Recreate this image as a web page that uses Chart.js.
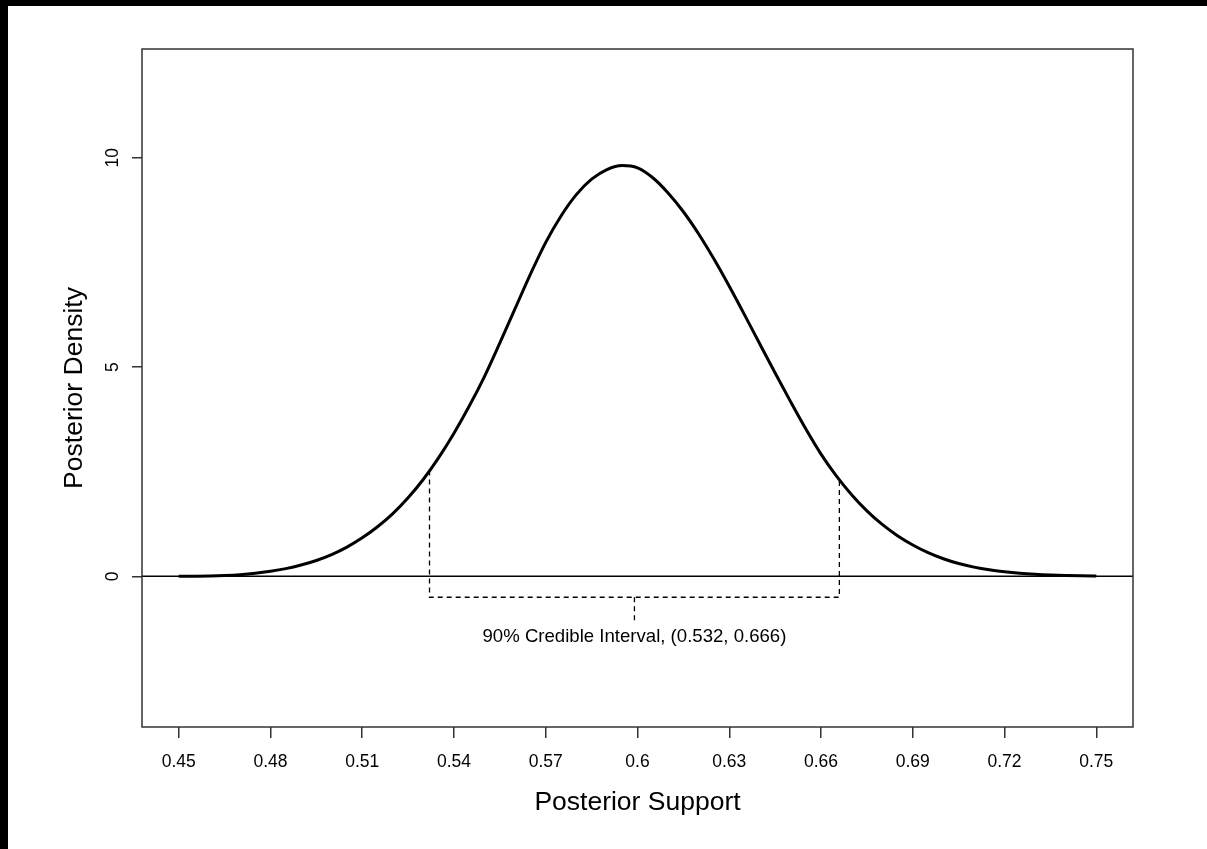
<!DOCTYPE html>
<html><head><meta charset="utf-8">
<script src="https://cdn.jsdelivr.net/npm/chart.js@4/dist/chart.umd.min.js"></script>
<style>
html,body{margin:0;padding:0;background:#000;overflow:hidden;width:1207px;height:849px;}
#wrap{position:absolute;left:8px;top:6px;width:1199px;height:843px;background:#fff;}
canvas{display:block;}
</style></head><body>
<div id="wrap"><canvas id="c" width="1199" height="843"></canvas></div>
<script>
const xValues = [0.450,0.455,0.460,0.465,0.470,0.475,0.480,0.485,0.490,0.495,0.500,0.505,0.510,0.515,0.520,0.525,0.530,0.535,0.540,0.545,0.550,0.555,0.560,0.565,0.570,0.575,0.580,0.585,0.590,0.595,0.600,0.605,0.610,0.615,0.620,0.625,0.630,0.635,0.640,0.645,0.650,0.655,0.660,0.665,0.670,0.675,0.680,0.685,0.690,0.695,0.700,0.705,0.710,0.715,0.720,0.725,0.730,0.735,0.740,0.745,0.750];
const densityValues = [0.000,0.004,0.010,0.021,0.040,0.072,0.120,0.184,0.270,0.379,0.520,0.699,0.920,1.184,1.500,1.878,2.320,2.836,3.420,4.068,4.780,5.576,6.400,7.220,7.980,8.611,9.120,9.489,9.720,9.815,9.760,9.524,9.160,8.711,8.180,7.580,6.930,6.248,5.550,4.858,4.180,3.525,2.920,2.400,1.950,1.565,1.240,0.971,0.750,0.567,0.420,0.306,0.220,0.156,0.110,0.075,0.050,0.032,0.020,0.013,0.010];
const xTickValues = [0.45,0.48,0.51,0.54,0.57,0.60,0.63,0.66,0.69,0.72,0.75];
const xTickLabels = ['0.45','0.48','0.51','0.54','0.57','0.6','0.63','0.66','0.69','0.72','0.75'];
const yTickValues = [0,5,10];
const yTickLabels = ['0','5','10'];
const xLimits = [0.438, 0.762];
const yLimits = [-3.6, 12.6];
const ciBounds = [0.532, 0.666];
const ciDensityAtBounds = [2.53, 2.29];
const ciBracketLevel = -0.5;
const ciPointerEnd = -1.1;
const ciLabelLevel = -1.45;
const ciLabel = '90% Credible Interval, (0.532, 0.666)';
const xTitle = 'Posterior Support';
const yTitle = 'Posterior Density';

const FONT = '"Liberation Sans", Arial, Helvetica, sans-serif';
const ciMid = (ciBounds[0] + ciBounds[1]) / 2;

const overlay = {
  id: 'overlay',
  afterDraw(chart) {
    const ctx = chart.ctx, a = chart.chartArea;
    const xs = chart.scales.x, ys = chart.scales.y;
    ctx.save();
    ctx.strokeStyle = '#333';
    ctx.lineWidth = 1.5;
    ctx.strokeRect(a.left, a.top, a.right - a.left, a.bottom - a.top);
    ctx.fillStyle = '#000';
    ctx.textAlign = 'center';
    ctx.textBaseline = 'middle';
    ctx.font = '17.5px ' + FONT;
    yTickValues.forEach((v, i) => {
      ctx.save();
      ctx.translate(a.left - 29, ys.getPixelForValue(v));
      ctx.rotate(-Math.PI / 2);
      ctx.fillText(yTickLabels[i], 0, 0);
      ctx.restore();
    });
    ctx.font = '18.6px ' + FONT;
    ctx.fillText(ciLabel, xs.getPixelForValue(ciMid), ys.getPixelForValue(ciLabelLevel));
    ctx.font = '26.5px ' + FONT;
    ctx.fillText(xTitle, (a.left + a.right) / 2, a.bottom + 76);
    ctx.save();
    ctx.translate(a.left - 67, (a.top + a.bottom) / 2);
    ctx.rotate(-Math.PI / 2);
    ctx.fillText(yTitle, 0, 0);
    ctx.restore();
    ctx.restore();
  }
};

new Chart(document.getElementById('c'), {
  type: 'line',
  data: {
    datasets: [
      {
        data: [{x: xLimits[0], y: 0}, {x: xLimits[1], y: 0}],
        borderColor: '#000', borderWidth: 1.5, pointRadius: 0
      },
      {
        data: xValues.map((x, i) => ({x: x, y: densityValues[i]})),
        borderColor: '#000', borderWidth: 3, pointRadius: 0,
        cubicInterpolationMode: 'monotone'
      },
      {
        data: [
          {x: ciBounds[0], y: ciDensityAtBounds[0]},
          {x: ciBounds[0], y: ciBracketLevel},
          {x: ciBounds[1], y: ciBracketLevel},
          {x: ciBounds[1], y: ciDensityAtBounds[1]}
        ],
        borderColor: '#000', borderWidth: 1.3, borderDash: [5, 4], pointRadius: 0, tension: 0
      },
      {
        data: [{x: ciMid, y: ciBracketLevel}, {x: ciMid, y: ciPointerEnd}],
        borderColor: '#000', borderWidth: 1.3, borderDash: [5, 4], pointRadius: 0, tension: 0
      }
    ]
  },
  options: {
    responsive: false,
    animation: false,
    devicePixelRatio: 1,
    layout: {padding: {left: 0, top: 43, right: 74, bottom: 0}},
    plugins: {legend: {display: false}, tooltip: {enabled: false}},
    scales: {
      x: {
        type: 'linear', min: xLimits[0], max: xLimits[1],
        afterBuildTicks: s => { s.ticks = xTickValues.map(v => ({value: v})); },
        afterFit: s => { s.height = 122; },
        ticks: {
          callback: (v, i) => xTickLabels[i],
          autoSkip: false, maxRotation: 0, minRotation: 0, padding: 14,
          color: '#000', font: {family: FONT, size: 17.5}
        },
        grid: {drawOnChartArea: false, drawTicks: true, tickLength: 11, color: '#333', lineWidth: 1.5},
        border: {display: false}
      },
      y: {
        type: 'linear', min: yLimits[0], max: yLimits[1],
        afterBuildTicks: s => { s.ticks = yTickValues.map(v => ({value: v})); },
        afterFit: s => { s.width = 134; },
        ticks: {display: false},
        grid: {drawOnChartArea: false, drawTicks: true, tickLength: 10, color: '#333', lineWidth: 1.5},
        border: {display: false}
      }
    }
  },
  plugins: [overlay]
});
</script>
</body></html>
